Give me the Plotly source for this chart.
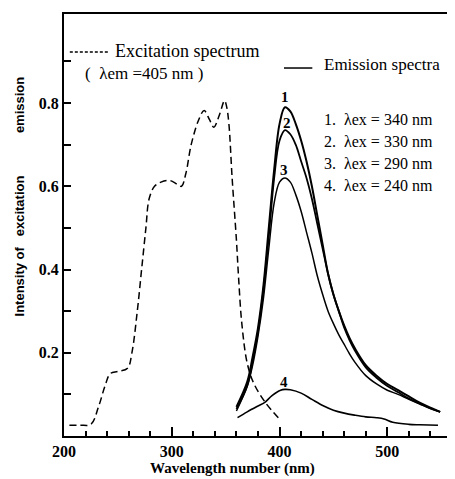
import plotly.graph_objects as go

# Excitation spectrum (lambda_em = 405 nm), dashed
exc_nm = [205, 215, 225, 232, 238, 243, 250, 259, 263, 268, 272, 276, 279, 284, 290, 298,
          305, 309, 313, 318, 325, 330, 335, 339, 344, 349, 351, 353, 356, 360, 362, 365,
          370, 376, 387, 401]
exc_int = [0.026, 0.026, 0.028, 0.07, 0.12, 0.15, 0.155, 0.163, 0.2, 0.3, 0.4, 0.5, 0.57, 0.6,
           0.61, 0.614, 0.605, 0.6, 0.63, 0.7, 0.76, 0.782, 0.76, 0.742, 0.77, 0.806, 0.79,
           0.75, 0.62, 0.47, 0.38, 0.27, 0.175, 0.127, 0.08, 0.038]

# Emission spectra
em_nm = [360, 370, 375, 380, 385, 390, 395, 400, 405, 410, 415, 420, 425, 430, 435, 440, 445,
         450, 455, 460, 465, 470, 480, 490, 500, 510, 520, 530, 540, 549]
em_340 = [0.07, 0.13, 0.19, 0.26, 0.36, 0.50, 0.64, 0.75, 0.79, 0.78, 0.75, 0.71, 0.66, 0.60,
          0.53, 0.46, 0.39, 0.34, 0.30, 0.265, 0.235, 0.21, 0.17, 0.145, 0.125, 0.11, 0.095,
          0.08, 0.068, 0.058]
em_330 = [0.065, 0.12, 0.18, 0.25, 0.35, 0.48, 0.62, 0.71, 0.735, 0.725, 0.70, 0.66, 0.62,
          0.57, 0.51, 0.45, 0.39, 0.34, 0.30, 0.26, 0.23, 0.205, 0.165, 0.14, 0.12, 0.105,
          0.09, 0.078, 0.066, 0.058]
em_290 = [0.06, 0.12, 0.17, 0.24, 0.33, 0.45, 0.56, 0.61, 0.62, 0.61, 0.58, 0.54, 0.49, 0.44,
          0.385, 0.34, 0.30, 0.27, 0.243, 0.22, 0.197, 0.177, 0.145, 0.125, 0.11, 0.10, 0.088,
          0.077, 0.066, 0.058]
em4_nm = [361, 370, 380, 386, 393, 401, 405, 410, 420, 430, 441, 450, 460, 470, 480, 490, 497,
          505, 520, 530, 547]
em_240 = [0.044, 0.058, 0.072, 0.08, 0.097, 0.11, 0.112, 0.111, 0.103, 0.088, 0.072, 0.062,
          0.055, 0.05, 0.046, 0.044, 0.041, 0.033, 0.028, 0.027, 0.026]

curve_ids = ["1", "2", "3", "4"]
curve_peak_nm = [405, 406.8, 404, 404]
curve_label_y = [0.814, 0.752, 0.639, 0.13]
legend_rows = ["1.  λex = 340 nm", "2.  λex = 330 nm", "3.  λex = 290 nm", "4.  λex = 240 nm"]

serif = "Liberation Serif"
sans = "Liberation Sans"

fig = go.Figure()

fig.add_trace(go.Scatter(x=exc_nm, y=exc_int, mode="lines", line_shape="spline",
                         line=dict(color="black", width=1.5, dash="7px,4px")))
for ys, w in [(em_340, 2), (em_330, 1.8), (em_290, 1.5)]:
    fig.add_trace(go.Scatter(x=em_nm, y=ys, mode="lines", line_shape="spline",
                             line=dict(color="black", width=w)))
fig.add_trace(go.Scatter(x=em4_nm, y=em_240, mode="lines", line_shape="spline",
                         line=dict(color="black", width=1.6)))

# curve numbers
for cid, cx, cy in zip(curve_ids, curve_peak_nm, curve_label_y):
    fig.add_annotation(x=cx, y=cy, text=cid, showarrow=False,
                       font=dict(family=serif, size=15, color="black", weight="bold"))

# legend-like text block
for i, row in enumerate(legend_rows):
    fig.add_annotation(xref="paper", yref="paper", x=0.666, y=0.749 - i * 0.052,
                       xanchor="left", yanchor="middle", text=row, showarrow=False,
                       font=dict(family=serif, size=16, color="black"))

fig.add_annotation(xref="paper", yref="paper", x=0.125, y=0.912, xanchor="left",
                   yanchor="middle", text="Excitation spectrum", showarrow=False,
                   font=dict(family=serif, size=18, color="black"))
fig.add_annotation(xref="paper", yref="paper", x=0.05, y=0.858, xanchor="left",
                   yanchor="middle", text="(  λem =405 nm )", showarrow=False,
                   font=dict(family=serif, size=17, color="black"))
fig.add_annotation(xref="paper", yref="paper", x=0.664, y=0.88, xanchor="left",
                   yanchor="middle", text="Emission spectra", showarrow=False,
                   font=dict(family=serif, size=17, color="black"))

# key lines
fig.add_shape(type="line", xref="paper", yref="paper", x0=0.015, x1=0.118, y0=0.91, y1=0.91,
              line=dict(color="black", width=1.3, dash="3px,2px"))
fig.add_shape(type="line", xref="paper", yref="paper", x0=0.567, x1=0.64, y0=0.872, y1=0.872,
              line=dict(color="black", width=1.5))

# axis titles
fig.add_annotation(xref="paper", yref="paper", x=-0.115, y=0.45, xanchor="center",
                   yanchor="middle", textangle=-90, text="Intensity of   excitation",
                   showarrow=False, font=dict(family=sans, size=13, color="black", weight="bold"))
fig.add_annotation(xref="paper", yref="paper", x=-0.115, y=0.785, xanchor="center",
                   yanchor="middle", textangle=-90, text="emission", showarrow=False,
                   font=dict(family=sans, size=13, color="black", weight="bold"))
fig.add_annotation(xref="paper", yref="paper", x=0.435, y=-0.076, yanchor="middle",
                   text="Wavelength number (nm)", showarrow=False,
                   font=dict(family=serif, size=15, color="black", weight="bold"))

# the page body adds an 8px offset, so the figure is drawn 8px smaller
fig.update_layout(
    width=447, height=471,
    margin=dict(l=56, r=1, t=6, b=43),
    paper_bgcolor="white", plot_bgcolor="white",
    showlegend=False,
    xaxis=dict(range=[200, 560], tickvals=[200, 300, 400, 500], ticks="inside", ticklen=9,
               tickwidth=1.5, tickcolor="black", showline=True, linewidth=2, linecolor="black",
               mirror=True, showgrid=False, zeroline=False,
               tickfont=dict(family=serif, size=16, color="black", weight="bold"),
               minor=dict(tickvals=list(range(220, 560, 20)), ticks="inside", ticklen=5,
                          tickwidth=1.5, tickcolor="black", showgrid=False)),
    yaxis=dict(range=[0, 1.014], tickvals=[0.2, 0.4, 0.6, 0.8], ticktext=["0.2", "0.4", "0.6", "0.8"],
               ticks="inside", ticklen=7, tickwidth=1.5, tickcolor="black", showline=True,
               linewidth=2, linecolor="black", mirror=True, showgrid=False, zeroline=False,
               tickfont=dict(family=serif, size=16, color="black", weight="bold"),
               minor=dict(tickvals=[0.1, 0.3, 0.5, 0.7, 0.9], ticks="inside", ticklen=7,
                          tickwidth=1.5, tickcolor="black", showgrid=False)),
)

fig.write_html("out.html")
